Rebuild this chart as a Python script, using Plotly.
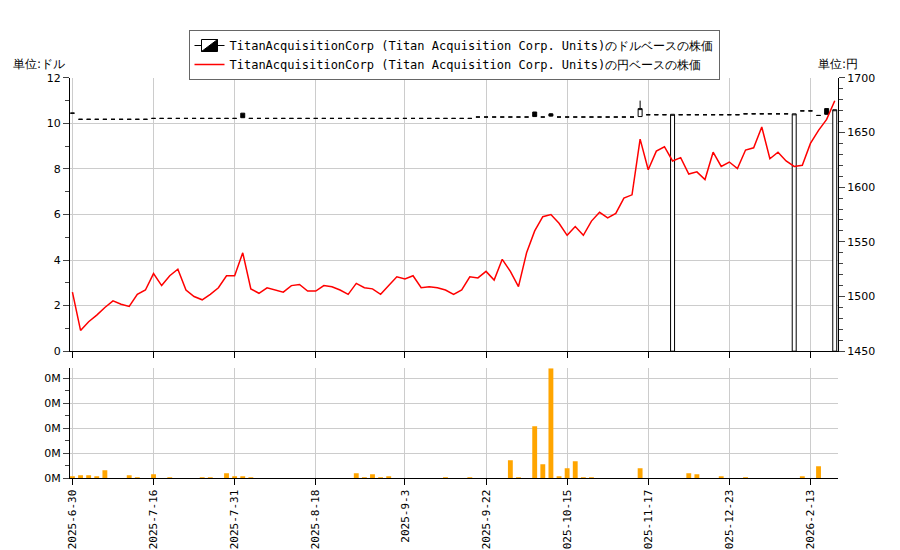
import plotly.graph_objects as go

n = 95
idx = list(range(n))

tick_pos = [0, 10, 20, 30, 41, 51, 61, 71, 81, 91]
tick_lab = ["2025-6-30", "2025-7-16", "2025-7-31", "2025-8-18", "2025-9-3",
            "2025-9-22", "2025-10-15", "2025-11-17", "2025-12-23", "2026-2-13"]

yen = [1504, 1469, 1477, 1483, 1490, 1496, 1493, 1491, 1502, 1506,
       1521, 1510, 1519, 1525, 1506, 1500, 1497, 1502, 1508, 1519,
       1519, 1540, 1507, 1503, 1508, 1506, 1504, 1510, 1511, 1505,
       1505, 1510, 1509, 1506, 1502, 1512, 1508, 1507, 1502, 1510,
       1518, 1516, 1519, 1508, 1509, 1508, 1506, 1502, 1506, 1518,
       1517, 1523, 1515, 1534, 1523, 1509, 1540, 1560, 1573, 1575,
       1567, 1556, 1564, 1556, 1569, 1577, 1572, 1576, 1590, 1593,
       1644, 1616, 1633, 1637, 1624, 1627, 1612, 1614, 1607, 1632,
       1619, 1623, 1617, 1634, 1636, 1655, 1626, 1632, 1624, 1619,
       1620, 1640, 1652, 1662, 1679]

close = ([10.45] + [10.18] * 9 + [10.22] * 40 + [10.28] * 20
         + [10.38] * 13 + [10.42] * 7 + [10.55] * 2 + [10.35, 10.4, 10.6])
open_ = list(close)
high = list(close)
low = list(close)
# special candles
open_[21], close[21], high[21], low[21] = 10.45, 10.25, 10.45, 10.25
open_[57], close[57], high[57], low[57] = 10.5, 10.3, 10.5, 10.3
open_[59], close[59], high[59], low[59] = 10.42, 10.32, 10.45, 10.3
open_[70], close[70], high[70], low[70] = 10.3, 10.65, 11.0, 10.3
open_[74], close[74], high[74], low[74] = 0.0, 10.4, 10.4, 0.0
open_[89], close[89], high[89], low[89] = 0.0, 10.42, 10.42, 0.0
open_[93], close[93], high[93], low[93] = 10.65, 10.4, 10.65, 10.4
open_[94], close[94], high[94], low[94] = 0.0, 10.6, 10.6, 0.0

vol_idx = [0, 1, 2, 3, 4, 7, 8, 10, 12, 16, 17, 19, 20, 21, 22, 35, 36, 37, 38, 39,
           46, 49, 54, 55, 57, 58, 59, 60, 61, 62, 63, 64, 70, 76, 77, 80, 83, 90, 92]
vol_val = [160, 240, 240, 160, 640, 240, 80, 320, 80, 80, 80, 400, 160, 160, 80,
           400, 80, 320, 80, 160, 80, 80, 1440, 80, 4160, 1120, 8800, 160, 800,
           1360, 80, 80, 800, 400, 320, 160, 80, 160, 960]
volume = [0] * n
for i, v in zip(vol_idx, vol_val):
    volume[i] = v

name_usd = "TitanAcquisitionCorp (Titan Acquisition Corp. Units)のドルベースの株価"
name_jpy = "TitanAcquisitionCorp (Titan Acquisition Corp. Units)の円ベースの株価"

fig = go.Figure()
fig.add_trace(go.Candlestick(
    x=idx, open=open_, high=high, low=low, close=close, name=name_usd,
    increasing=dict(line=dict(color="black", width=1), fillcolor="white"),
    decreasing=dict(line=dict(color="black", width=1), fillcolor="black"),
    whiskerwidth=0, xaxis="x", yaxis="y"))
fig.add_trace(go.Scatter(x=idx, y=yen, mode="lines", name=name_jpy,
                         line=dict(color="red", width=1.5), xaxis="x", yaxis="y2"))
fig.add_trace(go.Bar(x=idx, y=volume, marker_color="#FFA500", marker_line_width=0,
                     width=0.6, showlegend=False, xaxis="x2", yaxis="y3"))

grid = "#cccccc"
xcommon = dict(range=[-0.3, n - 0.6], tickvals=tick_pos, showgrid=True,
               gridcolor=grid, showline=True, linecolor="black", ticks="outside",
               ticklen=6, tickcolor="black", zeroline=False)
fig.update_layout(
    width=900, height=550, paper_bgcolor="white", plot_bgcolor="white",
    margin=dict(l=62, r=70, t=0, b=0, autoexpand=False),
    font=dict(family="DejaVu Sans", size=11, color="black"),
    showlegend=True,
    legend=dict(x=0.5, y=0.96, xanchor="center", yanchor="top", xref="paper", yref="paper",
                bordercolor="#666", borderwidth=1, font=dict(family="DejaVu Sans Mono", size=12),
                tracegroupgap=0),
    xaxis=dict(**xcommon, domain=[0, 1], anchor="y", showticklabels=False,
               rangeslider=dict(visible=False)),
    xaxis2=dict(**xcommon, domain=[0, 1], anchor="y3", ticktext=tick_lab,
                tickangle=-90, tickfont=dict(family="DejaVu Sans Mono", size=11)),
    yaxis=dict(domain=[0.376, 0.873], range=[0, 12], dtick=2, showgrid=True,
               gridcolor=grid, showline=True, linecolor="black", ticks="outside",
               ticklen=6, zeroline=False, minor=dict(dtick=1, ticks="outside", ticklen=4)),
    yaxis2=dict(overlaying="y", side="right", range=[1450, 1700], dtick=50,
                showgrid=False, showline=True, linecolor="black", ticks="outside",
                ticklen=6, zeroline=False, minor=dict(dtick=10, ticks="outside", ticklen=4)),
    yaxis3=dict(domain=[0.145, 0.345], range=[0, 8800], tickvals=[0, 2000, 4000, 6000, 8000],
                ticktext=["0M"] * 5, showgrid=True, gridcolor=grid, showline=True,
                linecolor="black", ticks="outside", ticklen=6, zeroline=False,
                minor=dict(dtick=1000, ticks="outside", ticklen=4)),
)
fig.add_annotation(text="単位:ドル", xref="paper", yref="paper", x=-0.04, y=0.915,
                   xanchor="center", showarrow=False, font=dict(size=12))
fig.add_annotation(text="単位:円", xref="paper", yref="paper", x=1.0, y=0.915,
                   xanchor="left", showarrow=False, font=dict(size=12), xshift=-22)

fig.write_html("out.html")
